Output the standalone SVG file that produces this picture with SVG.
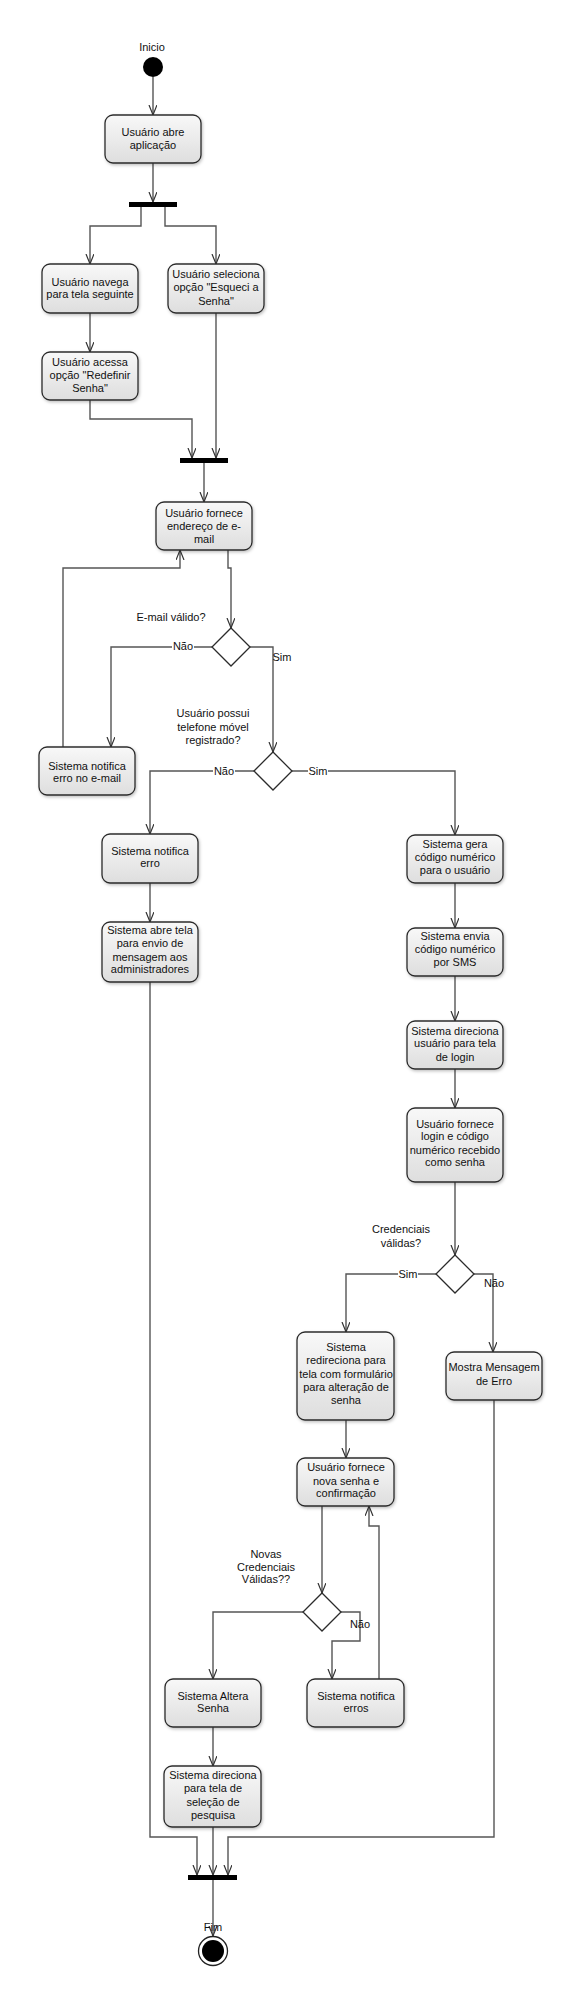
<svg xmlns="http://www.w3.org/2000/svg" width="581" height="2006" viewBox="0 0 581 2006">
<style>
  .box{fill:url(#g);stroke:#2b2b2b;stroke-width:1.3;filter:url(#sh)}
  .t{font-family:"Liberation Sans",Arial,sans-serif;font-size:11px;fill:#111;text-anchor:middle}
  .c{fill:none;stroke:#555;stroke-width:1.4;marker-end:url(#ar)}
  .cn{fill:none;stroke:#555;stroke-width:1.4}
  .bar{fill:#000}
  .dia{fill:#fff;stroke:#2b2b2b;stroke-width:1.3}
  .lb{fill:#fff}
</style>
<defs>
  <linearGradient id="g" x1="0" y1="0" x2="0" y2="1">
    <stop offset="0" stop-color="#f8f8f8"/>
    <stop offset="1" stop-color="#dedede"/>
  </linearGradient>
  <filter id="sh" x="-20%" y="-20%" width="140%" height="140%">
    <feDropShadow dx="1" dy="1.5" stdDeviation="1.5" flood-color="#000" flood-opacity="0.25"/>
  </filter>
  <marker id="ar" markerWidth="12" markerHeight="10" refX="10" refY="4" orient="auto" markerUnits="userSpaceOnUse">
    <path d="M0,0 L10,4 L0,8" fill="none" stroke="#333" stroke-width="1.2"/>
  </marker>
</defs>
<rect width="581" height="2006" fill="#fff"/>

<g id="connectors">
  <path class="c" d="M153,77 V115"/>
  <path class="c" d="M153,163 V202"/>
  <path class="c" d="M141,207 V226 H90 V264"/>
  <path class="c" d="M165,207 V226 H216 V264"/>
  <path class="c" d="M90,313 V352"/>
  <path class="c" d="M90,400 V419 H192 V458"/>
  <path class="c" d="M216,313 V458"/>
  <path class="c" d="M204,463 V502"/>
  <path class="c" d="M228,550 V568 H231 V628"/>
  <path class="c" d="M212,647 H111 V747"/>
  <path class="c" d="M63,747 V568 H180 V550"/>
  <path class="c" d="M250,647 H273 V752"/>
  <path class="c" d="M254,771 H150 V834"/>
  <path class="c" d="M292,771 H455 V835"/>
  <path class="c" d="M150,883 V922"/>
  <path class="c" d="M455,883 V928"/>
  <path class="c" d="M455,976 V1021"/>
  <path class="c" d="M455,1069 V1108"/>
  <path class="c" d="M455,1182 V1255"/>
  <path class="c" d="M436,1274 H346 V1332"/>
  <path class="c" d="M474,1274 H493 V1352"/>
  <path class="c" d="M346,1420 V1458"/>
  <path class="c" d="M322,1506 V1593"/>
  <path class="c" d="M303,1612 H213 V1679"/>
  <path class="c" d="M341,1612 H360 V1641 H332 V1679"/>
  <path class="c" d="M379,1679 V1526 H369 V1506"/>
  <path class="c" d="M213,1727 V1766"/>
  <path class="c" d="M150,982 V1837 H197 V1875"/>
  <path class="c" d="M213,1827 V1875"/>
  <path class="c" d="M494,1400 V1837 H228 V1875"/>
  <path class="c" d="M213,1880 V1936"/>
  <!-- labels -->
  <rect class="lb" x="172" y="640" width="22" height="12"/>
  <text class="t" x="183" y="650">Não</text>
  <text class="t" x="282" y="661">Sim</text>
  <rect class="lb" x="213" y="765" width="22" height="12"/>
  <text class="t" x="224" y="775">Não</text>
  <rect class="lb" x="308" y="765" width="20" height="12"/>
  <text class="t" x="318" y="775">Sim</text>
  <rect class="lb" x="398" y="1268" width="20" height="12"/>
  <text class="t" x="408" y="1278">Sim</text>
  <text class="t" x="494" y="1287">Não</text>
  <text class="t" x="360" y="1628">Não</text>
</g>

<g id="start">
  <text class="t" x="152" y="51">Inicio</text>
  <circle cx="153" cy="67" r="10" fill="#000"/>
</g>

<g id="n1"><rect class="box" x="105" y="115" width="96" height="48" rx="8"/>
  <text class="t" x="153" y="136">Usuário abre</text><text class="t" x="153" y="149">aplicação</text></g>

<g id="fork1"><rect class="bar" x="129" y="202" width="48" height="5"/></g>

<g id="n2"><rect class="box" x="42" y="264" width="96" height="49" rx="8"/>
  <text class="t" x="90" y="286">Usuário navega</text><text class="t" x="90" y="298">para tela seguinte</text></g>

<g id="n3"><rect class="box" x="168" y="264" width="96" height="49" rx="8"/>
  <text class="t" x="216" y="278">Usuário seleciona</text><text class="t" x="216" y="291">opção "Esqueci a</text><text class="t" x="216" y="305">Senha"</text></g>

<g id="n4"><rect class="box" x="42" y="352" width="96" height="48" rx="8"/>
  <text class="t" x="90" y="366">Usuário acessa</text><text class="t" x="90" y="379">opção "Redefinir</text><text class="t" x="90" y="392">Senha"</text></g>

<g id="join1"><rect class="bar" x="180" y="458" width="48" height="5"/></g>

<g id="n5"><rect class="box" x="156" y="502" width="96" height="48" rx="8"/>
  <text class="t" x="204" y="517">Usuário fornece</text><text class="t" x="204" y="530">endereço de e-</text><text class="t" x="204" y="543">mail</text></g>

<g id="d1"><polygon class="dia" points="231,628 250,647 231,666 212,647"/>
  <text class="t" x="171" y="621">E-mail válido?</text></g>

<g id="n6"><rect class="box" x="39" y="747" width="96" height="48" rx="8"/>
  <text class="t" x="87" y="770">Sistema notifica</text><text class="t" x="87" y="782">erro no e-mail</text></g>

<g id="d2"><polygon class="dia" points="273,752 292,771 273,790 254,771"/>
  <text class="t" x="213" y="717">Usuário possui</text><text class="t" x="213" y="731">telefone móvel</text><text class="t" x="213" y="744">registrado?</text></g>

<g id="n7"><rect class="box" x="102" y="834" width="96" height="49" rx="8"/>
  <text class="t" x="150" y="855">Sistema notifica</text><text class="t" x="150" y="867">erro</text></g>

<g id="n8"><rect class="box" x="102" y="922" width="96" height="60" rx="8"/>
  <text class="t" x="150" y="934">Sistema abre tela</text><text class="t" x="150" y="947">para envio de</text><text class="t" x="150" y="961">mensagem aos</text><text class="t" x="150" y="973">administradores</text></g>

<g id="n9"><rect class="box" x="407" y="835" width="96" height="48" rx="8"/>
  <text class="t" x="455" y="848">Sistema gera</text><text class="t" x="455" y="861">código numérico</text><text class="t" x="455" y="874">para o usuário</text></g>

<g id="n10"><rect class="box" x="407" y="928" width="96" height="48" rx="8"/>
  <text class="t" x="455" y="940">Sistema envia</text><text class="t" x="455" y="953">código numérico</text><text class="t" x="455" y="966">por SMS</text></g>

<g id="n11"><rect class="box" x="407" y="1021" width="96" height="48" rx="8"/>
  <text class="t" x="455" y="1035">Sistema direciona</text><text class="t" x="455" y="1047">usuário para tela</text><text class="t" x="455" y="1061">de login</text></g>

<g id="n12"><rect class="box" x="407" y="1108" width="96" height="74" rx="8"/>
  <text class="t" x="455" y="1128">Usuário fornece</text><text class="t" x="455" y="1140">login e código</text><text class="t" x="455" y="1154">numérico recebido</text><text class="t" x="455" y="1166">como senha</text></g>

<g id="d3"><polygon class="dia" points="455,1255 474,1274 455,1293 436,1274"/>
  <text class="t" x="401" y="1233">Credenciais</text><text class="t" x="401" y="1247">válidas?</text></g>

<g id="n13"><rect class="box" x="297" y="1332" width="97" height="88" rx="8"/>
  <text class="t" x="346" y="1351">Sistema</text><text class="t" x="346" y="1364">redireciona para</text><text class="t" x="346" y="1378">tela com formulário</text><text class="t" x="346" y="1391">para alteração de</text><text class="t" x="346" y="1404">senha</text></g>

<g id="n14"><rect class="box" x="446" y="1352" width="96" height="48" rx="8"/>
  <text class="t" x="494" y="1371">Mostra Mensagem</text><text class="t" x="494" y="1385">de Erro</text></g>

<g id="n15"><rect class="box" x="297" y="1458" width="97" height="48" rx="8"/>
  <text class="t" x="346" y="1471">Usuário fornece</text><text class="t" x="346" y="1485">nova senha e</text><text class="t" x="346" y="1497">confirmação</text></g>

<g id="d4"><polygon class="dia" points="322,1593 341,1612 322,1631 303,1612"/>
  <text class="t" x="266" y="1558">Novas</text><text class="t" x="266" y="1571">Credenciais</text><text class="t" x="266" y="1583">Válidas??</text></g>

<g id="n16"><rect class="box" x="165" y="1679" width="96" height="48" rx="8"/>
  <text class="t" x="213" y="1700">Sistema Altera</text><text class="t" x="213" y="1712">Senha</text></g>

<g id="n17"><rect class="box" x="307" y="1679" width="97" height="48" rx="8"/>
  <text class="t" x="356" y="1700">Sistema notifica</text><text class="t" x="356" y="1712">erros</text></g>

<g id="n18"><rect class="box" x="164" y="1766" width="97" height="61" rx="8"/>
  <text class="t" x="213" y="1779">Sistema direciona</text><text class="t" x="213" y="1792">para tela de</text><text class="t" x="213" y="1806">seleção de</text><text class="t" x="213" y="1819">pesquisa</text></g>

<g id="join2"><rect class="bar" x="188" y="1875" width="49" height="5"/></g>

<g id="end">
  <text class="t" x="213" y="1931">Fim</text>
  <circle cx="213" cy="1951" r="14.5" fill="#fff" stroke="#222" stroke-width="1.3"/>
  <circle cx="213" cy="1951" r="11" fill="#000"/>
</g>
</svg>
